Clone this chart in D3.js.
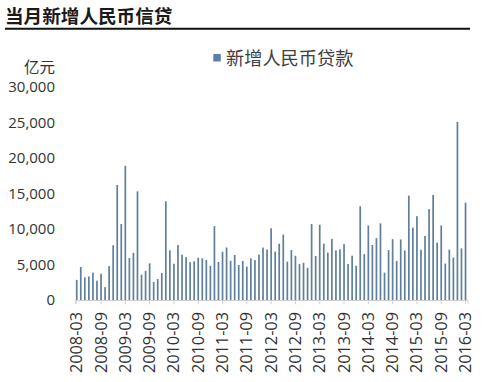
<!DOCTYPE html>
<html><head><meta charset="utf-8">
<script src="https://cdn.jsdelivr.net/npm/d3@7"></script>
<style>body{margin:0;background:#fff}svg{display:block}</style>
</head><body>
<svg id="c" width="500" height="382"></svg>
<script>
const title = "当月新增人民币信贷";
const seriesName = "新增人民币贷款";
const unitLabel = "亿元";
const months = [];
(function(){ for(let y=2008,m=3; y<2016 || (y===2016 && m<=3); ){ months.push(y+"-"+String(m).padStart(2,"0")); m++; if(m>12){m=1;y++;} } })();
const loans = [
  2834,4645,3185,3316,3857,2715,3702,1814,4769,7718,
  16200,10700,18900,5918,6645,15304,3559,4104,5167,2530,2948,3798,
  13900,7000,5107,7740,6394,6034,5328,5452,5955,5877,5640,4807,
  10400,5356,6794,7396,5516,6339,4925,5485,4700,5868,5622,6405,
  7381,7107,10100,6818,7932,9198,5401,7039,6232,5053,5229,4543,
  10700,6200,10600,7929,6674,8605,6999,7135,7870,5061,6246,4825,
  13200,6445,10500,7747,8708,10800,3852,7025,8572,5483,8527,6973,
  14700,10200,11800,7079,9008,12800,14800,8096,10500,5136,7089,5978,
  25100,7266,13700
];
const yTicks = [0,5000,10000,15000,20000,25000,30000];
const xTickLabels = months.filter((d,i)=> i%6===0);

const svg = d3.select("#c");
// title
svg.append("text").attr("x",5).attr("y",23)
  .attr("font-family","'Noto Sans CJK SC'").attr("font-weight",700)
  .attr("font-size",18.6).attr("fill","#1a1a1a").text(title);
svg.append("line").attr("x1",5).attr("x2",470).attr("y1",28.7).attr("y2",28.7)
  .attr("stroke","#111").attr("stroke-width",2);

const x = d3.scaleBand().domain(months).range([74.7, 74.7+4.05*months.length])
  .paddingInner(0.58).paddingOuter(0.29);
const y = d3.scaleLinear().domain([0,30000]).range([300,87]);

// y labels
const fmt = d3.format(",");
svg.append("g").selectAll("text").data(yTicks).join("text")
  .attr("x",55).attr("y",d=>y(d)).attr("dy","0.36em").attr("text-anchor","end")
  .attr("font-family","'Open Sans'").attr("font-size",15).attr("fill","#333")
  .text(d=>fmt(d));
svg.append("text").attr("x",55).attr("y",72.5).attr("text-anchor","end")
  .attr("font-family","'Noto Sans CJK SC'").attr("font-size",15.5).attr("fill","#333")
  .text(unitLabel);

// bars
svg.append("g").selectAll("rect").data(loans).join("rect")
  .attr("x",(d,i)=>x(months[i])).attr("width",x.bandwidth())
  .attr("y",d=>y(d)).attr("height",d=>y(0)-y(d))
  .attr("fill","#5f7f9b");

// x axis
const xAxis = d3.axisBottom(x).tickValues(xTickLabels).tickSize(4).tickFormat("");
const gx = svg.append("g").attr("transform","translate(0,300)").call(xAxis);
gx.select(".domain").attr("stroke","#d0d0d0");
gx.selectAll(".tick line").attr("stroke","#d0d0d0");
svg.append("g").selectAll("text").data(xTickLabels).join("text")
  .attr("transform",d=>`translate(${x(d)+x.bandwidth()/2+5.5},312) rotate(-90)`)
  .attr("text-anchor","end")
  .attr("font-family","'Open Sans'").attr("font-size",16.3).attr("fill","#333")
  .text(d=>d);

// legend
svg.append("rect").attr("x",213.3).attr("y",54).attr("width",7.5).attr("height",7.5).attr("fill","#5a7db3");
svg.append("text").attr("x",226).attr("y",65).attr("font-family","'Noto Sans CJK SC'")
  .attr("font-size",18.2).attr("fill","#404040").text(seriesName);
</script>
</body></html>
